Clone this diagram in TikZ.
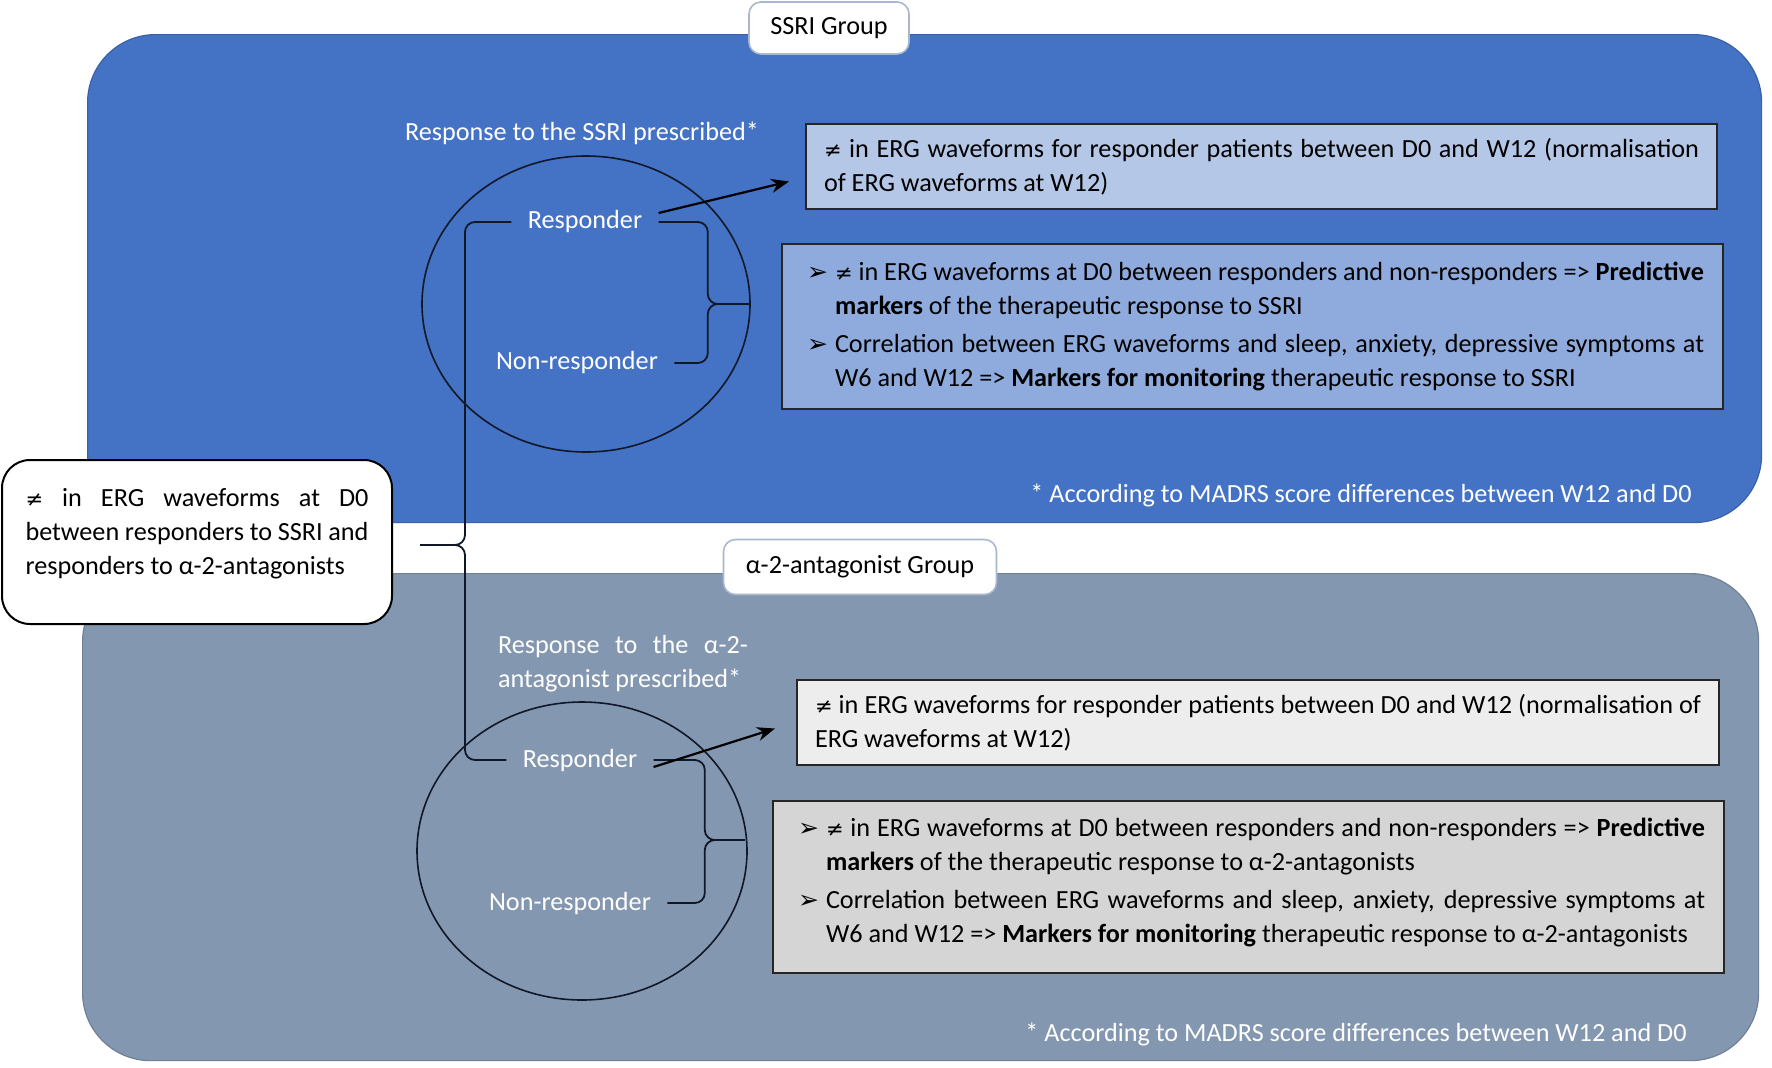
\documentclass[tikz,border=0pt]{standalone}
\usepackage{fontspec}
\setmainfont{Carlito}
\newfontfamily\symfont{DejaVu Sans}
\usetikzlibrary{positioning,shapes.geometric,arrows.meta,calc}

\definecolor{ssriblue}{HTML}{4472C4}
\definecolor{ssrilight}{HTML}{B4C7E7}
\definecolor{ssrimid}{HTML}{8FAADC}
\definecolor{alphagrey}{HTML}{8497B0}
\definecolor{alphalight}{HTML}{EDEDED}
\definecolor{alphamid}{HTML}{D5D5D5}
\definecolor{tabedge}{HTML}{A9B8D0}
\definecolor{inkline}{HTML}{101828}

\newcommand{\nesym}{{\symfont\fontsize{10.5}{10}\selectfont ≠}}
\newcommand{\arrbul}{{\symfont\fontsize{12.5}{10}\selectfont ➢}}
\newcommand{\bitem}[1]{\noindent\hangindent=17pt\hangafter=1\makebox[17pt][l]{\hspace{3pt}\arrbul}#1\par}

\tikzset{
  txt/.style={font=\fontsize{13.1}{17}\selectfont},
  panel/.style={anchor=north west, rounded corners=34pt, inner sep=0pt, line width=0.6pt},
  tab/.style={txt, draw=tabedge, line width=0.8pt, fill=white, rounded corners=6pt, inner sep=0pt},
  infobox/.style={txt, draw=black!85, line width=1pt, anchor=north west, align=justify, inner xsep=9pt, inner ysep=0pt},
  lbl/.style={txt, text=white, inner xsep=8pt, inner ysep=2pt},
  circ/.style={draw=inkline, line width=0.8pt, ellipse, inner sep=0pt},
  brace/.style={draw=inkline, line width=0.9pt, rounded corners=5pt},
  arr/.style={draw=black, line width=1.1pt, -{Stealth[length=9pt,width=7pt]}},
  note/.style={txt, text=white, inner sep=0pt, anchor=east}
}

\begin{document}
\begin{tikzpicture}[x=0.5pt, y=-0.5pt]
\useasboundingbox (0,0) rectangle (1772,1067);

% the two groups
\node[panel, fill=ssriblue, draw=ssriblue!85!black, minimum width=837pt, minimum height=244pt] (ssri) at (87,34) {};
\node[panel, fill=alphagrey, draw=alphagrey!85!black, minimum width=838pt, minimum height=243.5pt] (alpha) at (82,573) {};

\node[tab, minimum width=80pt, minimum height=26pt] (ssritab) at (829,28) {SSRI Group};
\node[tab, minimum width=136.5pt, minimum height=27.5pt] (alphatab) at (860,567) {α-2-antagonist Group};

% common box on the left
\node[txt, draw=black, line width=1pt, fill=white, rounded corners=14pt, text width=171.5pt,
      align=justify, minimum height=82pt, inner xsep=11.75pt] (diff) at (197,542)
  {\nesym{} in ERG waveforms at D0\linebreak between responders to SSRI and\linebreak responders to α-2-antagonists\par\kern8pt};

% response circles
\node[circ, minimum width=164pt, minimum height=148pt] (c1) at (586,304) {};
\node[circ, minimum width=165pt, minimum height=149pt] (c2) at (582,851) {};

\node[lbl] (q1) at (582,133) {Response to the SSRI prescribed*};
\node[lbl] (r1) at (585,222) {Responder};
\node[lbl] (n1) at (577,363) {Non-responder};

\node[lbl, text width=125pt, align=justify, inner xsep=0pt] (q2) at (623,664)
  {Response to the α-2-\linebreak antagonist prescribed*};
\node[lbl] (r2) at (580,760) {Responder};
\node[lbl] (n2) at (570,903) {Non-responder};

% findings
\node[infobox, fill=ssrilight, text width=437.5pt, minimum height=42.5pt] (b1) at (805,123)
  {\nesym{} in ERG waveforms for responder patients between D0 and W12 (normalisation\linebreak of ERG waveforms at W12)};
\node[infobox, fill=ssrimid, text width=451.5pt, inner xsep=9.5pt, minimum height=82.5pt] (b2) at (781,243)
  {\setlength{\parskip}{2pt}%
   \bitem{\nesym{} in ERG waveforms at D0 between responders and non-responders => \textbf{Predictive}\linebreak \textbf{markers} of the therapeutic response to SSRI}%
   \bitem{Correlation between ERG waveforms and sleep, anxiety, depressive symptoms at\linebreak W6 and W12 => \textbf{Markers for monitoring} therapeutic response to SSRI}};

\node[infobox, fill=alphalight, text width=443pt, minimum height=42.5pt] (b3) at (796,679)
  {\nesym{} in ERG waveforms for responder patients between D0 and W12 (normalisation of\linebreak ERG waveforms at W12)};
\node[infobox, fill=alphamid, text width=456.5pt, inner xsep=9.5pt, minimum height=86pt] (b4) at (772,800)
  {\setlength{\parskip}{2pt}%
   \bitem{\nesym{} in ERG waveforms at D0 between responders and non-responders => \textbf{Predictive}\linebreak \textbf{markers} of the therapeutic response to α-2-antagonists}%
   \bitem{Correlation between ERG waveforms and sleep, anxiety, depressive symptoms at\linebreak W6 and W12 => \textbf{Markers for monitoring} therapeutic response to α-2-antagonists}\kern4.5pt};

\node[note] (f1) at (1692,495) {* According to MADRS score differences between W12 and D0};
\node[note] (f2) at (1687,1034) {* According to MADRS score differences between W12 and D0};

% braces
\coordinate (ltip) at (420,545);
\coordinate (tip2) at ($(c2.east)+(-3,-11)$);
\draw[brace] (r1.west) -| ($(ltip)+(45,0)$) -- (ltip);
\draw[brace] (r2.west) -| ($(ltip)+(45,0)$) -- (ltip);
\draw[brace] (r1.east) -| ($(c1.east)+(-43,0)$) -- (c1.east);
\draw[brace] (n1.east) -| ($(c1.east)+(-43,0)$) -- (c1.east);
\draw[brace] (r2.east) -| ($(tip2)+(-40,0)$) -- (tip2);
\draw[brace] (n2.east) -| ($(tip2)+(-40,0)$) -- (tip2);

% arrows to the findings
\draw[arr] ($(r1.east)+(0,-9)$) -- ($(b1.west)+(-16,15)$);
\draw[arr] ($(r2.east)+(0,7)$) -- ($(b3.west)+(-21,6)$);
\end{tikzpicture}
\end{document}
